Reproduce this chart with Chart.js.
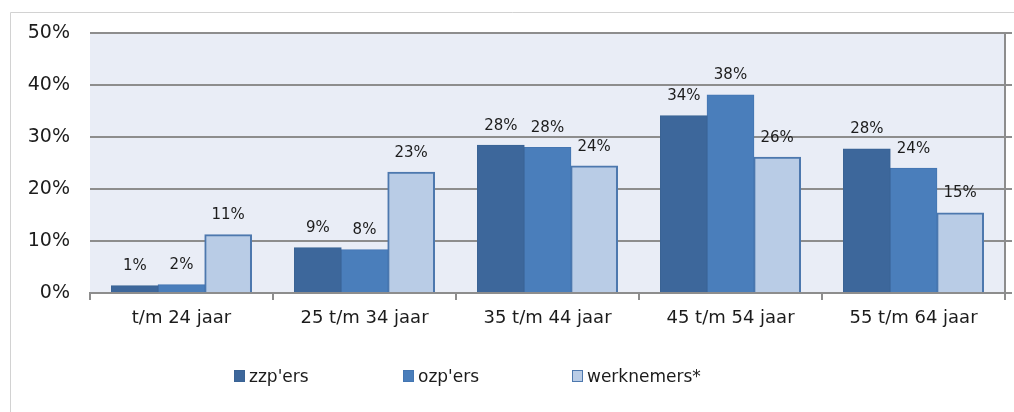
<!DOCTYPE html>
<html>
<head>
<meta charset="utf-8">
<script src="https://cdn.jsdelivr.net/npm/chart.js@4"></script>
<style>
  html, body { margin: 0; padding: 0; background: #ffffff; overflow: hidden; }
  #wrap { position: relative; width: 1014px; height: 412px; overflow: hidden; }
  #chart { display: block; }
  #legend {
    position: absolute; left: 234px; top: 366px;
    display: flex; font-family: 'DejaVu Sans', Verdana, sans-serif;
    font-size: 17px; color: #1c1c1c;
  }
  #legend .item { width: 169px; display: flex; align-items: center; }
  #legend .box { width: 9px; height: 10px; border: 1px solid; margin-right: 4px; }
</style>
</head>
<body>
<div id="wrap">
  <canvas id="chart" width="1014" height="412"></canvas>
  <div id="legend"></div>
</div>
<script>
// leeftijdsverdeling zzp'ers / ozp'ers / werknemers
const categories = ['t/m 24 jaar', '25 t/m 34 jaar', '35 t/m 44 jaar', '45 t/m 54 jaar', '55 t/m 64 jaar'];
const seriesNames = ["zzp'ers", "ozp'ers", 'werknemers*'];
const zzpValues = [1.4, 8.7, 28.4, 34.1, 27.7];
const ozpValues = [1.6, 8.3, 28.0, 38.1, 24.0];
const werknemerValues = [11.2, 23.2, 24.4, 26.1, 15.4];
const yTicks = [0, 10, 20, 30, 40, 50];

const gridGray = '#8d8d8d';

// achtergrond van het plotvlak + kader rond de figuur
const backgroundPlugin = {
  id: 'plotBackground',
  beforeDraw(chart) {
    const { ctx, chartArea: a } = chart;
    ctx.save();
    ctx.fillStyle = '#e9edf6';
    ctx.fillRect(a.left, a.top, a.right - a.left, a.bottom - a.top);
    // buitenkader (alleen links en boven zichtbaar)
    ctx.strokeStyle = '#d2d2d2';
    ctx.lineWidth = 1;
    ctx.beginPath();
    ctx.moveTo(10.5, chart.height);
    ctx.lineTo(10.5, 12.5);
    ctx.lineTo(chart.width, 12.5);
    ctx.stroke();
    ctx.restore();
  },
  afterDraw(chart) {
    const { ctx, chartArea: a } = chart;
    const y = chart.scales.y;
    ctx.save();
    ctx.strokeStyle = gridGray;
    ctx.lineWidth = 2;
    ctx.beginPath();
    ctx.moveTo(a.right, a.top);
    ctx.lineTo(a.right, a.bottom + 7);
    // korte streepjes rechts van de as
    yTicks.forEach(v => {
      const py = Math.round(y.getPixelForValue(v));
      ctx.moveTo(a.right, py);
      ctx.lineTo(a.right + 7, py);
    });
    ctx.stroke();
    ctx.restore();
  }
};

// percentages boven de staven
const valueLabels = {
  id: 'valueLabels',
  afterDatasetsDraw(chart) {
    const { ctx } = chart;
    ctx.save();
    ctx.font = "15px 'DejaVu Sans', Verdana, sans-serif";
    ctx.fillStyle = '#1c1c1c';
    ctx.textAlign = 'center';
    ctx.textBaseline = 'bottom';
    chart.data.datasets.forEach((ds, i) => {
      chart.getDatasetMeta(i).data.forEach((bar, j) => {
        ctx.fillText(Math.round(ds.data[j]) + '%', bar.x, bar.y - 12);
      });
    });
    ctx.restore();
  }
};

Chart.defaults.font.family = "'DejaVu Sans', Verdana, sans-serif";
Chart.defaults.color = '#1c1c1c';

const chart = new Chart(document.getElementById('chart'), {
  type: 'bar',
  data: {
    labels: categories,
    datasets: [
      {
        label: seriesNames[0],
        data: zzpValues,
        backgroundColor: '#3d679b',
        borderColor: '#3a6394',
        borderWidth: 1
      },
      {
        label: seriesNames[1],
        data: ozpValues,
        backgroundColor: '#4a7ebb',
        borderColor: '#4476b2',
        borderWidth: 1
      },
      {
        label: seriesNames[2],
        data: werknemerValues,
        backgroundColor: '#b9cce6',
        borderColor: '#4d78ae',
        borderWidth: 2
      }
    ]
  },
  options: {
    responsive: false,
    animation: false,
    layout: { padding: { left: 0, top: 33, right: 9, bottom: 69 } },
    datasets: {
      bar: { categoryPercentage: 0.765, barPercentage: 1.0, inflateAmount: 0.5 }
    },
    plugins: {
      legend: { display: false },
      tooltip: { enabled: false }
    },
    scales: {
      x: {
        grid: {
          offset: true,
          drawOnChartArea: false,
          color: gridGray,
          lineWidth: 2,
          tickLength: 7
        },
        border: { color: gridGray, width: 2 },
        ticks: { font: { size: 18 }, padding: 8 },
        afterFit(scale) { scale.height = 50; }
      },
      y: {
        min: 0,
        max: 50,
        afterBuildTicks(scale) { scale.ticks = yTicks.map(v => ({ value: v })); },
        grid: { color: gridGray, lineWidth: 2, drawTicks: false },
        border: { display: false },
        ticks: {
          font: { size: 19 },
          padding: 20,
          callback: v => v + '%'
        },
        afterFit(scale) { scale.width = 90; }
      }
    }
  },
  plugins: [backgroundPlugin, valueLabels]
});

// legenda als html, opgebouwd uit de datasets van de grafiek
const legendEl = document.getElementById('legend');
chart.data.datasets.forEach(ds => {
  const item = document.createElement('div');
  item.className = 'item';
  const box = document.createElement('span');
  box.className = 'box';
  box.style.background = ds.backgroundColor;
  box.style.borderColor = ds.borderColor;
  const txt = document.createElement('span');
  txt.textContent = ds.label;
  item.appendChild(box);
  item.appendChild(txt);
  legendEl.appendChild(item);
});
</script>
</body>
</html>
